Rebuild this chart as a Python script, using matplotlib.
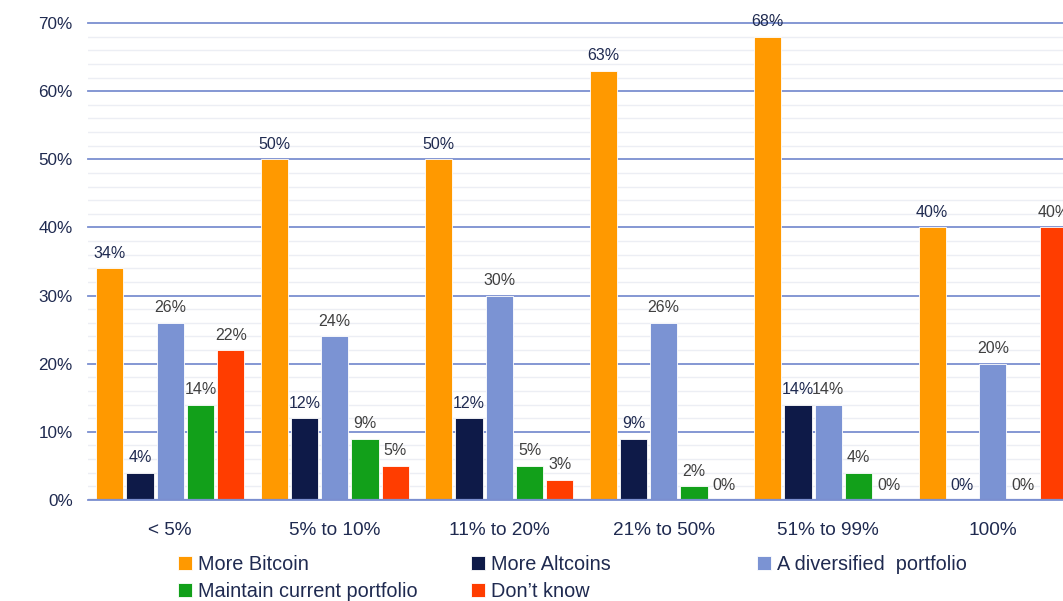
import numpy as np
import matplotlib
matplotlib.use('Agg')
import matplotlib.pyplot as plt

plt.rcParams['font.family'] = ['Liberation Sans', 'DejaVu Sans']

# data
categories = ['< 5%', '5% to 10%', '11% to 20%', '21% to 50%', '51% to 99%', '100%']
more_bitcoin = [34, 50, 50, 63, 68, 40]
more_altcoins = [4, 12, 12, 9, 14, 0]
diversified = [26, 24, 30, 26, 14, 20]
maintain = [14, 9, 5, 2, 4, 0]
dont_know = [22, 5, 3, 0, 0, 40]

series_names = ['More Bitcoin', 'More Altcoins', 'A diversified  portfolio',
                'Maintain current portfolio', 'Don\u2019t know']
series_vals = [more_bitcoin, more_altcoins, diversified, maintain, dont_know]
colors = ['#FF9900', '#0E1A48', '#7B93D3', '#12A01A', '#FF3D00']
label_colors = ['#1F2A50', '#1F2A50', '#404040', '#404040', '#404040']
navy_txt = '#1F2A50'
grid_blue = '#7B8FD0'

fig = plt.figure(figsize=(10.63, 6.01), dpi=100)
ax = fig.add_axes([88 / 1063, 101 / 601, 987 / 1063, 477 / 601])

x = np.arange(len(categories))
pitch = 0.184
width = 0.165
bars = []
for i, (vals, col, lc) in enumerate(zip(series_vals, colors, label_colors)):
    pos = x + (i - 2) * pitch
    b = ax.bar(pos, vals, width, color=col, edgecolor='white', linewidth=0.6, zorder=3)
    bars.append(b)
    for xp, v in zip(pos, vals):
        ax.text(xp, v + 1.1, f'{v}%', ha='center', va='bottom', fontsize=11.5,
                color=lc, clip_on=False, zorder=4)

ax.set_xlim(-0.5, 5.5)
ax.set_ylim(0, 70)
ax.set_yticks(np.arange(0, 71, 10))
ax.set_yticklabels([f'{v}%' for v in range(0, 71, 10)])
ax.set_yticks(np.arange(0, 71, 2), minor=True)
ax.grid(which='major', axis='y', color=grid_blue, linewidth=1.3, zorder=1)
ax.grid(which='minor', axis='y', color='#ECEEF4', linewidth=1.0, zorder=0)
for gl in ax.get_ygridlines():
    gl.set_clip_on(False)
ax.set_xticks(x)
ax.set_xticklabels(categories)
ax.tick_params(axis='both', which='both', length=0)
ax.tick_params(axis='y', labelsize=12.3, labelcolor=navy_txt, pad=11)
ax.tick_params(axis='x', labelsize=13.7, labelcolor=navy_txt, pad=16)
for s in ax.spines.values():
    s.set_visible(False)
ax.axhline(0, color=grid_blue, linewidth=1.6, zorder=5)

# legend, three columns placed by hand
leg_kw = dict(loc='upper left', frameon=False, fontsize=14.3, handlelength=0.7,
              handleheight=0.7, handletextpad=0.3, labelspacing=0.4,
              borderpad=0, borderaxespad=0, labelcolor=navy_txt)
top = 1 - 555 / 601
fig.legend([bars[0], bars[3]], [series_names[0], series_names[3]],
           bbox_to_anchor=(178 / 1063, top), **leg_kw)
fig.legend([bars[1], bars[4]], [series_names[1], series_names[4]],
           bbox_to_anchor=(471 / 1063, top), **leg_kw)
fig.legend([bars[2]], [series_names[2]],
           bbox_to_anchor=(757 / 1063, top), **leg_kw)

fig.savefig('out.png', dpi=100)
